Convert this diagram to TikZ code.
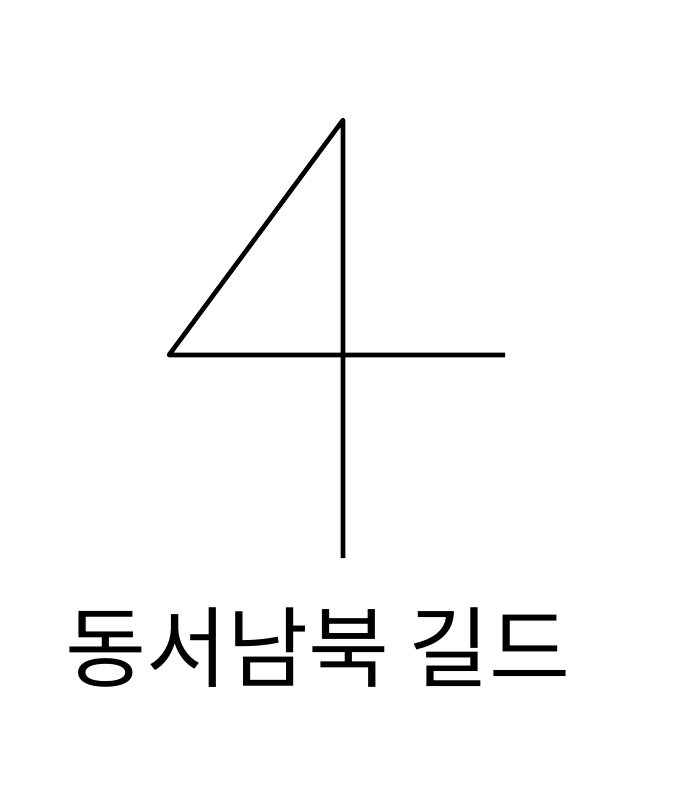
\documentclass[tikz,border=0pt]{standalone}
\usepackage{fontspec}
\newfontfamily\kofont{Noto Sans CJK KR}
\begin{document}
\begin{tikzpicture}[x=1pt,y=-1pt,line width=4.6pt,line join=round]
\useasboundingbox (0,0) rectangle (679,785);
\coordinate (top) at (343,120);
\coordinate (bot) at (343,558);
\coordinate (lft) at (169,355);
\coordinate (rgt) at (505,355);
\draw (bot)--(top)--(lft)--(rgt);
\node[inner sep=0pt,font=\kofont\fontsize{88}{96}\selectfont] (title) at (318,648) {동서남북 길드};
\end{tikzpicture}
\end{document}
